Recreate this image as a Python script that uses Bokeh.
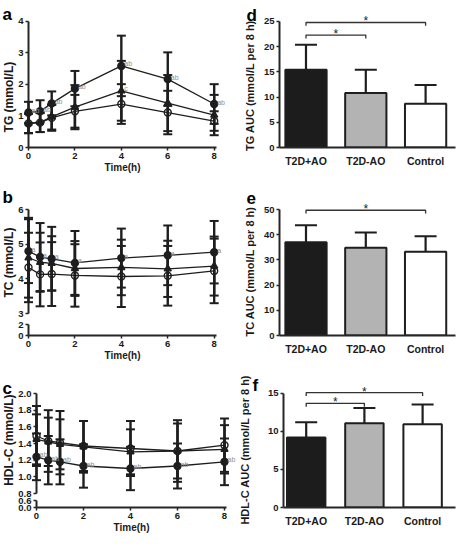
import math
from bokeh.plotting import figure
from bokeh.models import Range1d, FixedTicker, ColumnDataSource
from bokeh.layouts import column, row
from bokeh.embed import file_html
from bokeh.resources import INLINE
from bokeh.core.properties import value

FONT = "Liberation Sans"
INK = "#1e1e1e"
AXIS = "#262626"
SIG = "#8f8f8f"

# ---------------- data ----------------
time_h = [0, 0.5, 1, 2, 4, 6, 8]
time_ticks = [0, 2, 4, 6, 8]
groups = ["T2D+AO", "T2D-AO", "Control"]

# TG (mmol/L)
tg_ao_mean = [1.11, 1.15, 1.40, 1.87, 2.59, 2.17, 1.38]
tg_ao_sd = [0.34, 0.35, 0.38, 0.56, 0.96, 0.85, 0.63]
tg_nao_mean = [0.77, 0.80, 0.97, 1.28, 1.80, 1.41, 1.03]
tg_nao_sd = [0.31, 0.31, 0.40, 0.70, 0.95, 0.89, 0.64]
tg_ctl_mean = [0.76, 0.79, 0.94, 1.15, 1.38, 1.11, 0.84]
tg_ctl_sd = [0.31, 0.30, 0.41, 0.52, 0.63, 0.69, 0.31]
tg_ao_sig = ["ab", "ab", "ab", "ab", "ab", "ab", "ab"]
tg_nao_sig = ["", "", "", "", "c", "", ""]
tg_ticks = [0, 1, 2, 3, 4]

# TC (mmol/L)
tc_ao_mean = [4.80, 4.63, 4.58, 4.46, 4.60, 4.68, 4.77]
tc_ao_sd = [0.92, 0.98, 0.92, 0.92, 0.85, 0.86, 0.90]
tc_nao_mean = [4.61, 4.48, 4.45, 4.30, 4.33, 4.29, 4.37]
tc_nao_sd = [1.15, 0.85, 0.78, 0.79, 0.80, 0.81, 0.85]
tc_ctl_mean = [4.33, 4.13, 4.14, 4.10, 4.07, 4.09, 4.23]
tc_ctl_sd = [1.00, 0.92, 0.92, 0.90, 0.88, 0.86, 0.93]
tc_ao_sig = ["a", "a", "a", "a", "a", "a", "a"]
tc_ticks = [0, 2, 3, 4, 5, 6]
tc_tick_labels = ["0", "2", "3", "4", "5", "6"]

# HDL-C (mmol/L)
hdl_ao_mean = [1.24, 1.20, 1.18, 1.13, 1.10, 1.13, 1.18]
hdl_ao_sd = [0.28, 0.29, 0.27, 0.26, 0.26, 0.27, 0.28]
hdl_nao_mean = [1.45, 1.42, 1.39, 1.36, 1.30, 1.31, 1.33]
hdl_nao_sd = [0.30, 0.29, 0.30, 0.31, 0.27, 0.33, 0.29]
hdl_ctl_mean = [1.49, 1.43, 1.41, 1.37, 1.34, 1.31, 1.38]
hdl_ctl_sd = [0.36, 0.37, 0.38, 0.30, 0.33, 0.37, 0.32]
hdl_ao_sig = ["ab", "ab", "ab", "ab", "ab", "ab", "ab"]
hdl_ticks = [0.0, 0.6, 0.8, 1.0, 1.2, 1.4, 1.6, 1.8, 2.0]
hdl_tick_labels = ["0.0", "0.6", "0.8", "1.0", "1.2", "1.4", "1.6", "1.8", "2.0"]

# AUC bars
tg_auc = [15.4, 10.8, 8.7]
tg_auc_sd = [5.0, 4.6, 3.7]
tg_auc_ticks = [0, 5, 10, 15, 20, 25]
tg_auc_pairs = [(0, 2), (0, 1)]
tg_auc_pair_y = [24.8, 22.3]

tc_auc = [37.0, 34.8, 33.2]
tc_auc_sd = [6.8, 6.1, 6.2]
tc_auc_ticks = [0, 10, 20, 30, 40, 50]
tc_auc_pairs = [(0, 2)]
tc_auc_pair_y = [49.7]

hdl_auc = [9.2, 11.1, 10.95]
hdl_auc_sd = [2.0, 2.0, 2.6]
hdl_auc_ticks = [0, 5, 10, 15]
hdl_auc_pairs = [(0, 2), (0, 1)]
hdl_auc_pair_y = [15.1, 13.7]

bar_colors = ["#1c1c1c", "#b3b3b3", "#ffffff"]


# ---------------- helpers ----------------
def style_axis(ax):
    ax.axis_line_width = 2
    ax.axis_line_color = AXIS
    ax.major_tick_line_width = 1.5
    ax.major_tick_line_color = AXIS
    ax.major_tick_out = 3
    ax.major_tick_in = 0
    ax.minor_tick_line_color = None
    ax.major_label_text_font = FONT
    ax.major_label_text_font_size = "9.5px"
    ax.major_label_text_font_style = "bold"
    ax.major_label_text_color = "#1a1a1a"
    ax.major_label_standoff = 2
    ax.axis_label_text_font = FONT
    ax.axis_label_text_font_size = "10px"
    ax.axis_label_text_font_style = "bold"
    ax.axis_label_text_color = "#1a1a1a"
    ax.axis_label_standoff = 0


def overlay(*rs):
    for r in rs:
        r.level = "overlay"


class Panel:
    """A figure plus the layout geometry of its frame (used to place texts)."""

    def __init__(self, ox, oy, width, height, borders, xr, yr):
        l, r, t, b = borders
        self.left = ox + l
        self.top = oy + t
        self.fw = width - l - r
        self.fh = height - t - b
        self.xr, self.yr = xr, yr
        p = figure(width=width, height=height,
                   x_range=Range1d(*xr), y_range=Range1d(*yr),
                   output_backend="svg", toolbar_location=None,
                   min_border_left=l, min_border_right=r,
                   min_border_top=t, min_border_bottom=b)
        p.outline_line_color = None
        p.xgrid.visible = False
        p.ygrid.visible = False
        p.background_fill_color = "white"
        p.border_fill_color = "white"
        for ax in p.axis:
            style_axis(ax)
        self.p = p

    def xd(self, px):
        return self.xr[0] + (px - self.left) * (self.xr[1] - self.xr[0]) / self.fw

    def yd(self, py):
        return self.yr[1] - (py - self.top) * (self.yr[1] - self.yr[0]) / self.fh

    def ppu_y(self):
        return self.fh / (self.yr[1] - self.yr[0])

    def letter(self, text, px, base):
        overlay(self.p.text(x=[self.xd(px)], y=[self.yd(base)], text=[text],
                            text_font=value(FONT), text_font_size="17px",
                            text_font_style="bold", text_color="#000000",
                            text_align="left", text_baseline="alphabetic"))

    def ylabel(self, text, cx, y_data, size):
        overlay(self.p.text(x=[self.xd(cx)], y=[y_data], text=[text],
                            angle=math.pi / 2, text_font=value(FONT),
                            text_font_size=size, text_font_style="bold",
                            text_color="#1a1a1a", text_align="center",
                            text_baseline="middle"))


def line_panel(p, series, sigs):
    sources = []
    for mean, sd, marker, fill in series:
        lo = [m - s for m, s in zip(mean, sd)]
        hi = [m + s for m, s in zip(mean, sd)]
        sources.append(ColumnDataSource(dict(t=time_h, mean=mean, lo=lo, hi=hi)))
    for src in sources:
        overlay(p.line("t", "mean", source=src, line_color=INK, line_width=1.3))
    for src in sources:
        overlay(
            p.segment(x0="t", y0="lo", x1="t", y1="hi", source=src,
                      line_color=INK, line_width=2.4),
            p.scatter("t", "hi", source=src, marker="dash", size=9,
                      line_color=INK, line_width=2),
            p.scatter("t", "lo", source=src, marker="dash", size=9,
                      line_color=INK, line_width=2),
        )
    for (mean, sd, marker, fill), src in zip(series, sources):
        overlay(p.scatter("t", "mean", source=src, marker=marker, size=7,
                          fill_color=fill, line_color=INK, line_width=1.4))
    for mean, labels in sigs:
        overlay(p.text(x=time_h, y=mean, text=labels, x_offset=3, y_offset=-2,
                       text_font=value(FONT), text_font_size="7px",
                       text_color=SIG, text_align="left",
                       text_baseline="alphabetic"))


def broken_axis(p, ticks, labels, brk, lo, seg_top, top):
    scale = (seg_top - lo) / max(v for v in ticks if v < brk)
    disp = [v if v >= brk else lo + v * scale for v in ticks]
    p.yaxis.ticker = FixedTicker(ticks=disp)
    p.yaxis.major_label_overrides = {d: lab for d, lab in zip(disp, labels)}
    p.yaxis.axis_line_color = None
    x0 = p.x_range.start
    overlay(p.segment(x0=[x0, x0], y0=[lo, brk], x1=[x0, x0], y1=[seg_top, top],
                      line_color=AXIS, line_width=2))


def bar_panel(pn, vals, sds, ticks, pairs, pair_y, bar_w):
    p = pn.p
    xs = [i + 1 for i in range(len(groups))]
    hi = [v + s for v, s in zip(vals, sds)]
    src = ColumnDataSource(dict(x=xs, top=vals, hi=hi, color=bar_colors))
    p.segment(x0="x", y0="top", x1="x", y1="hi", source=src,
              line_color=INK, line_width=2.2)
    p.scatter("x", "hi", source=src, marker="dash", size=22,
              line_color=INK, line_width=2)
    p.vbar(x="x", top="top", bottom=0, width=bar_w, source=src,
           fill_color="color", line_color=INK, line_width=2)
    drop = 3.3 / pn.ppu_y()
    for (i, j), h in zip(pairs, pair_y):
        xa, xb = xs[i], xs[j]
        overlay(p.line(x=[xa, xa, xb, xb], y=[h - drop, h, h, h - drop],
                       line_color="#333333", line_width=1.3))
        overlay(p.text(x=[(xa + xb) / 2], y=[h], text=["*"], y_offset=-1,
                       text_font=value(FONT), text_font_size="12px",
                       text_color="#222222", text_align="center",
                       text_baseline="alphabetic"))
    p.xaxis.ticker = FixedTicker(ticks=xs)
    p.xaxis.major_label_overrides = {x: g for x, g in zip(xs, groups)}
    p.xaxis.major_label_text_font_size = "10.5px"
    p.xaxis.major_tick_line_color = None
    p.xaxis.major_label_standoff = 4
    p.yaxis.ticker = FixedTicker(ticks=ticks)
    p.yaxis.bounds = (ticks[0], ticks[-1])


# frames in one row are aligned by Bokeh, so each row shares top/bottom borders
LW, RW = 236, 220

# ---------------- row 1: TG ----------------
pa = Panel(0, 0, LW, 180, (28, 20, 11, 33), (0, 8.1), (0, 4.317))
fa = pa.p
fa.xaxis.ticker = FixedTicker(ticks=time_ticks)
fa.yaxis.ticker = FixedTicker(ticks=tg_ticks)
fa.yaxis.bounds = (tg_ticks[0], tg_ticks[-1])
fa.xaxis.axis_label = "Time(h)"
line_panel(fa, [(tg_ao_mean, tg_ao_sd, "circle", INK),
                (tg_nao_mean, tg_nao_sd, "triangle", INK),
                (tg_ctl_mean, tg_ctl_sd, "circle", None)],
           [(tg_ao_mean, tg_ao_sig), (tg_nao_mean, tg_nao_sig)])
pa.ylabel("TG (mmol/L)", 8, 1.6, "12px")
pa.letter("a", 2, 14)

pd_ = Panel(LW, 0, RW, 180, (43, 1, 11, 33), (0.557, 3.50), (0, 26.98))
bar_panel(pd_, tg_auc, tg_auc_sd, tg_auc_ticks, tg_auc_pairs, tg_auc_pair_y, 0.69)
pd_.ylabel("TG AUC (mmol/L per 8 h)", 249, 12.3, "11px")
pd_.letter("d", 246, 15)

# ---------------- row 2: TC ----------------
pb = Panel(0, 180, LW, 183, (28, 20, 22, 28), (0, 8.1), (2.369, 6.202))
fb = pb.p
fb.xaxis.ticker = FixedTicker(ticks=time_ticks)
fb.xaxis.axis_label = "Time(h)"
broken_axis(fb, tc_ticks, tc_tick_labels, 3, 2.369, 2.686, 6)
line_panel(fb, [(tc_ao_mean, tc_ao_sd, "circle", INK),
                (tc_nao_mean, tc_nao_sd, "triangle", INK),
                (tc_ctl_mean, tc_ctl_sd, "circle", None)],
           [(tc_ao_mean, tc_ao_sig)])
pb.ylabel("TC (mmol/L)", 8, 4.47, "12px")
pb.letter("b", 2, 197)

pe = Panel(LW, 180, RW, 183, (43, 1, 22, 28), (0.557, 3.50), (0, 52.78))
bar_panel(pe, tc_auc, tc_auc_sd, tc_auc_ticks, tc_auc_pairs, tc_auc_pair_y, 0.69)
pe.ylabel("TC AUC (mmol/L per 8 h)", 249, 25.4, "11px")
pe.letter("e", 246, 197)

# ---------------- row 3: HDL-C ----------------
pc = Panel(0, 363, LW, 172, (36, 10, 22, 28), (0, 8.085), (0.632, 2.096))
fc = pc.p
fc.xaxis.ticker = FixedTicker(ticks=time_ticks)
fc.xaxis.axis_label = "Time(h)"
broken_axis(fc, hdl_ticks, hdl_tick_labels, 0.8, 0.632, 0.716, 2.0)
line_panel(fc, [(hdl_ao_mean, hdl_ao_sd, "circle", INK),
                (hdl_nao_mean, hdl_nao_sd, "triangle", INK),
                (hdl_ctl_mean, hdl_ctl_sd, "circle", None)],
           [(hdl_ao_mean, hdl_ao_sig)])
pc.ylabel("HDL-C (mmol/L)", 8, 1.44, "12px")
pc.letter("c", 2, 388)

pf = Panel(LW, 363, RW, 172, (47, 1, 22, 28), (0.61, 3.565), (0, 16.05))
bar_panel(pf, hdl_auc, hdl_auc_sd, hdl_auc_ticks, hdl_auc_pairs, hdl_auc_pair_y, 0.66)
pf.ylabel("HDL-C AUC (mmol/L per 8 h)", 244, 7.6, "11px")
pf.letter("f", 252, 385)

layout = column(row(fa, pd_.p), row(fb, pe.p), row(fc, pf.p))

with open("out.html", "w") as fh:
    fh.write(file_html(layout, INLINE))
